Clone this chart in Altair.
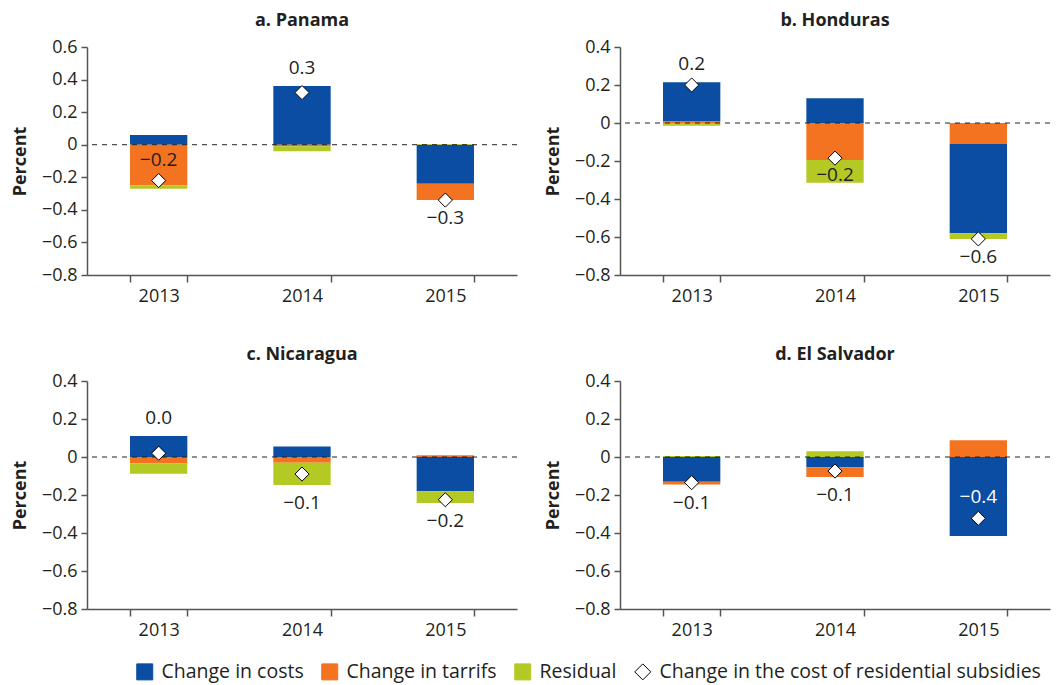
import altair as alt
import pandas as pd

countries = ["a. Panama", "b. Honduras", "c. Nicaragua", "d. El Salvador"]
years = ["2013", "2014", "2015"]
components = ["Change in costs", "Change in tarrifs", "Residual"]
subsidy_name = "Change in the cost of residential subsidies"

# values per country (rows) and year (columns)
costs = [
    [0.06, 0.36, -0.24],
    [0.205, 0.13, -0.47],
    [0.11, 0.055, -0.18],
    [-0.13, -0.054, -0.416],
]
tariffs = [
    [-0.25, -0.01, -0.10],
    [0.01, -0.195, -0.11],
    [-0.033, -0.03, 0.009],
    [-0.015, -0.051, 0.088],
]
residual = [
    [-0.02, -0.03, 0.005],
    [-0.015, -0.12, -0.03],
    [-0.055, -0.118, -0.062],
    [0.005, 0.03, 0.0],
]
subsidy = [
    [-0.22, 0.32, -0.34],
    [0.20, -0.185, -0.61],
    [0.02, -0.09, -0.225],
    [-0.135, -0.074, -0.323],
]
labels = [
    ["\u22120.2", "0.3", "\u22120.3"],
    ["0.2", "\u22120.2", "\u22120.6"],
    ["0.0", "\u22120.1", "\u22120.2"],
    ["\u22120.1", "\u22120.1", "\u22120.4"],
]
# where the value label sits: above the bar, below the bar, above or below the diamond
label_place = [
    ["over", "top", "bottom"],
    ["top", "under", "bottom"],
    ["top", "bottom", "bottom"],
    ["bottom", "bottom", "over"],
]
label_white = [
    [False, False, False],
    [False, False, False],
    [False, False, False],
    [False, False, True],
]
# stacking order of components from zero outward (indices into components)
stack_order = [
    [[0, 1, 2], [0, 1, 2], [0, 1, 2]],
    [[1, 0, 2], [0, 1, 2], [1, 0, 2]],
    [[0, 1, 2], [0, 1, 2], [0, 1, 2]],
    [[0, 1, 2], [0, 1, 2], [0, 1, 2]],
]
y_domains = [[-0.8, 0.6], [-0.8, 0.4], [-0.8, 0.4], [-0.8, 0.4]]
y_ticks = [
    [-0.8, -0.6, -0.4, -0.2, 0.0, 0.2, 0.4, 0.6],
    [-0.8, -0.6, -0.4, -0.2, 0.0, 0.2, 0.4],
    [-0.8, -0.6, -0.4, -0.2, 0.0, 0.2, 0.4],
    [-0.8, -0.6, -0.4, -0.2, 0.0, 0.2, 0.4],
]

BLUE = "#0A4DA2"
ORANGE = "#F37321"
GREEN = "#B5C924"
TEXT = "#231F20"
AXIS = "#555555"
FONT = "Open Sans"
FS = 18

all_names = components + [subsidy_name]
fill_scale = alt.Scale(domain=all_names, range=[BLUE, ORANGE, GREEN, "white"])
stroke_scale = alt.Scale(domain=all_names, range=[BLUE, ORANGE, GREEN, "black"])
shape_scale = alt.Scale(domain=all_names, range=["square", "square", "square", "diamond"])
legend = alt.Legend(title=None)

PW, PH = 430, 228


def panel(i):
    rows = []
    pts = []
    for j, yr in enumerate(years):
        vals = [costs[i][j], tariffs[i][j], residual[i][j]]
        for k, comp in enumerate(components):
            rows.append({"year": yr, "component": comp, "value": vals[k],
                         "rank": stack_order[i][j].index(k)})
        pos = sum(v for v in vals if v > 0)
        neg = sum(v for v in vals if v < 0)
        place = label_place[i][j]
        anchor = {"top": max(pos, subsidy[i][j]),
                  "bottom": min(neg, subsidy[i][j])}.get(place, subsidy[i][j])
        pts.append({"year": yr, "component": subsidy_name, "value": subsidy[i][j],
                    "label": labels[i][j], "place": place, "anchor": anchor,
                    "tcolor": "white" if label_white[i][j] else TEXT})
    bars_df = pd.DataFrame(rows)
    pts_df = pd.DataFrame(pts)

    yscale = alt.Scale(domain=y_domains[i], nice=False, zero=False)
    yaxis = alt.Axis(title="Percent", values=y_ticks[i], grid=False, tickSize=6,
                     labelExpr="datum.value == 0 ? '0' : format(datum.value, '.1f')",
                     labelPadding=4, titlePadding=12, labelOverlap=False)
    xscale = alt.Scale(domain=years, paddingInner=0.6, paddingOuter=0.3)
    xaxis = alt.Axis(title=None, labelAngle=0, tickBand="extent", tickSize=7,
                     labelPadding=5, grid=False)
    x = alt.X("year:N", scale=xscale, axis=xaxis)

    def yenc(field, **kw):
        return alt.Y(field, scale=yscale, axis=yaxis, **kw)

    bars = alt.Chart(bars_df).mark_bar().encode(
        x=x,
        y=yenc("value:Q", stack="zero"),
        fill=alt.Fill("component:N", scale=fill_scale, legend=legend),
        order=alt.Order("rank:Q"),
    )
    zero = alt.Chart(pd.DataFrame({"value": [0.0]})).mark_rule(
        color="#222222", strokeDash=[5, 5], strokeWidth=1
    ).encode(y=yenc("value:Q"))
    points = alt.Chart(pts_df).mark_point(
        size=200, opacity=1, fillOpacity=1, strokeWidth=1, filled=True
    ).encode(
        x=x,
        y=yenc("value:Q"),
        fill=alt.Fill("component:N", scale=fill_scale, legend=legend),
        stroke=alt.Stroke("component:N", scale=stroke_scale, legend=legend),
        shape=alt.Shape("component:N", scale=shape_scale, legend=legend),
    )
    texts = []
    for place, base, dy in [("top", "bottom", -8), ("over", "bottom", -11),
                            ("bottom", "top", 9), ("under", "top", 8)]:
        texts.append(
            alt.Chart(pts_df).transform_filter(alt.datum.place == place)
            .mark_text(baseline=base, dy=dy, fontSize=FS + 1, font=FONT)
            .encode(x=x, y=yenc("anchor:Q"),
                    text="label:N", color=alt.Color("tcolor:N", scale=None))
        )
    return alt.layer(bars, zero, points, *texts).properties(
        width=PW, height=PH,
        title=alt.TitleParams(countries[i], fontSize=FS, fontWeight="bold",
                              font=FONT, color=TEXT, offset=8),
    )


top = alt.hconcat(panel(0), panel(1), spacing=26)
bottom = alt.hconcat(panel(2), panel(3), spacing=26)
chart = alt.vconcat(top, bottom, spacing=41).properties(
    padding={"left": 3, "right": 0, "top": 4, "bottom": 6}
).configure_axis(
    labelFont=FONT, labelFontSize=FS, labelColor=TEXT,
    titleFont=FONT, titleFontSize=FS, titleFontWeight="bold", titleColor=TEXT,
    domainColor=AXIS, tickColor=AXIS, domainWidth=1.5, tickWidth=1.5,
).configure_view(stroke=None).configure_legend(
    orient="none", legendX=48, legendY=615, direction="horizontal",
    labelFont=FONT, labelFontSize=19.5,
    labelColor=TEXT, symbolSize=256, symbolStrokeWidth=1, columnPadding=15,
    labelOffset=7, labelLimit=0, symbolOpacity=1,
)

chart.save("out.html", embed_options={"renderer": "svg", "actions": False})
